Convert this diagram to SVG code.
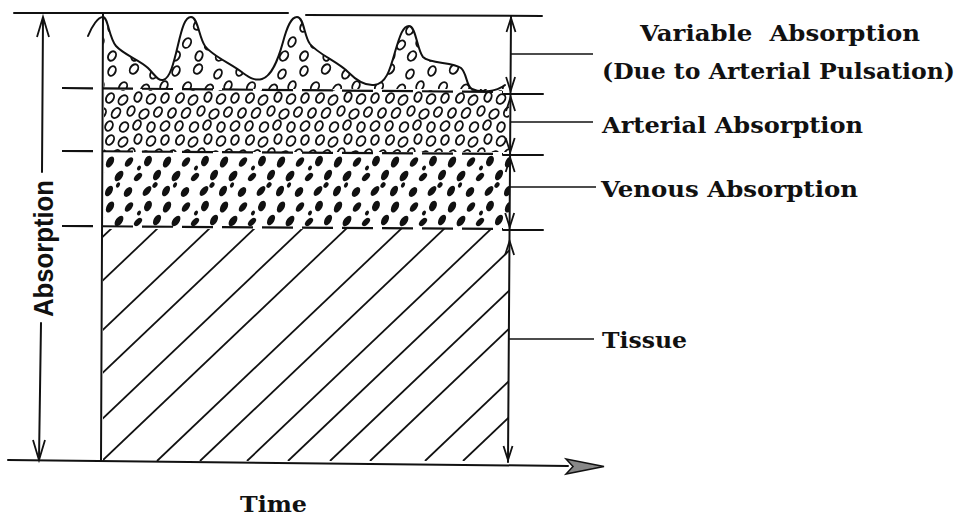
<svg xmlns="http://www.w3.org/2000/svg" xmlns:xlink="http://www.w3.org/1999/xlink" width="964" height="518" viewBox="0 0 964 518">
<style>
.ln{stroke:#111;stroke-width:2;fill:none;stroke-linecap:round}
.thin{stroke:#111;stroke-width:1.6;fill:none}
.ah{stroke:#111;stroke-width:1.8;fill:none;stroke-linejoin:miter}
.dash{stroke:#111;stroke-width:2.2;stroke-dasharray:31 9;fill:none}
.hatch{stroke:#111;stroke-width:1.8;fill:none}
.lbl{font-family:"DejaVu Serif","Liberation Serif",serif;font-weight:bold;font-size:22px;fill:#111}
.sans{font-family:"Liberation Sans","DejaVu Sans",sans-serif;font-weight:bold;font-size:28px;fill:#111}
.ho{fill:none;stroke:#111;stroke-width:1.9}
.fi{fill:#111}
</style>
<defs>
<path id="ah" class="ah" d="M-4.5,14 L0,0 L4.5,14"/>
<path id="ahL" class="ah" d="M-6,20 L0,0 L6,20"/>
<pattern id="pd" patternUnits="userSpaceOnUse" x="104" y="91" width="70" height="42">
<g class="ho">
<ellipse cx="6" cy="7" rx="3.6" ry="5.2" transform="rotate(30 6 7)"/>
<ellipse cx="19" cy="9" rx="3.8" ry="5.4" transform="rotate(40 19 9)"/>
<ellipse cx="34" cy="6" rx="3.4" ry="5" transform="rotate(20 34 6)"/>
<ellipse cx="47" cy="8" rx="3.9" ry="5.3" transform="rotate(35 47 8)"/>
<ellipse cx="61" cy="7" rx="3.5" ry="5" transform="rotate(25 61 7)"/>
<ellipse cx="12" cy="22" rx="3.7" ry="5.5" transform="rotate(35 12 22)"/>
<ellipse cx="27" cy="20" rx="3.4" ry="5" transform="rotate(25 27 20)"/>
<ellipse cx="40" cy="23" rx="3.9" ry="5.4" transform="rotate(45 40 23)"/>
<ellipse cx="54" cy="21" rx="3.6" ry="5.2" transform="rotate(30 54 21)"/>
<ellipse cx="68" cy="22" rx="3.5" ry="5.1" transform="rotate(30 68 22)"/>
<ellipse cx="-2" cy="22" rx="3.5" ry="5.1" transform="rotate(30 -2 22)"/>
<ellipse cx="5" cy="35" rx="3.5" ry="5" transform="rotate(25 5 35)"/>
<ellipse cx="20" cy="36" rx="3.8" ry="5.2" transform="rotate(35 20 36)"/>
<ellipse cx="33" cy="34" rx="3.4" ry="5.1" transform="rotate(30 33 34)"/>
<ellipse cx="47" cy="36" rx="3.6" ry="5" transform="rotate(20 47 36)"/>
<ellipse cx="61" cy="35" rx="3.8" ry="5.3" transform="rotate(40 61 35)"/>
</g>
</pattern>
<pattern id="ps" patternUnits="userSpaceOnUse" x="104" y="18" width="64" height="44">
<g class="ho">
<ellipse cx="8" cy="9" rx="3.5" ry="5" transform="rotate(25 8 9)"/>
<ellipse cx="30" cy="7" rx="3.7" ry="5.2" transform="rotate(35 30 7)"/>
<ellipse cx="50" cy="12" rx="3.4" ry="5" transform="rotate(30 50 12)"/>
<ellipse cx="19" cy="25" rx="3.7" ry="5.2" transform="rotate(30 19 25)"/>
<ellipse cx="41" cy="27" rx="3.5" ry="5" transform="rotate(40 41 27)"/>
<ellipse cx="60" cy="24" rx="3.4" ry="5" transform="rotate(25 60 24)"/>
<ellipse cx="-4" cy="24" rx="3.4" ry="5" transform="rotate(25 -4 24)"/>
<ellipse cx="8" cy="38" rx="3.6" ry="5" transform="rotate(30 8 38)"/>
<ellipse cx="31" cy="38" rx="3.4" ry="5" transform="rotate(20 31 38)"/>
<ellipse cx="52" cy="38" rx="3.7" ry="5.1" transform="rotate(35 52 38)"/>
</g>
</pattern>
<pattern id="pf" patternUnits="userSpaceOnUse" x="104" y="154" width="57" height="45">
<g class="fi">
<ellipse cx="6" cy="8" rx="3.4" ry="6" transform="rotate(30 6 8)"/>
<ellipse cx="25" cy="8" rx="3" ry="5.6" transform="rotate(40 25 8)"/>
<ellipse cx="44" cy="7" rx="3.5" ry="5.6" transform="rotate(25 44 7)"/>
<ellipse cx="15" cy="22" rx="3.4" ry="6" transform="rotate(35 15 22)"/>
<ellipse cx="34" cy="23" rx="2.8" ry="5" transform="rotate(45 34 23)"/>
<ellipse cx="53" cy="21" rx="3.3" ry="5.8" transform="rotate(30 53 21)"/>
<ellipse cx="-4" cy="21" rx="3.3" ry="5.8" transform="rotate(30 -4 21)"/>
<ellipse cx="5" cy="37" rx="3.3" ry="5.8" transform="rotate(30 5 37)"/>
<ellipse cx="24" cy="38" rx="3.5" ry="5.5" transform="rotate(35 24 38)"/>
<ellipse cx="43" cy="37" rx="3.1" ry="5.8" transform="rotate(40 43 37)"/>
<ellipse cx="35" cy="14" rx="1.8" ry="2.6" transform="rotate(30 35 14)"/>
<ellipse cx="14" cy="31" rx="1.8" ry="2.8" transform="rotate(30 14 31)"/>
<ellipse cx="51" cy="31" rx="2.2" ry="3.2" transform="rotate(35 51 31)"/>
</g>
</pattern>
<clipPath id="hc"><rect x="103" y="229" width="406" height="232"/></clipPath>
</defs>
<rect width="964" height="518" fill="#fff"/>

<g id="layers">
<path id="variable-fill" fill="url(#ps)" d="M103,17 C108,17 109,38 116,46 C124,55 140,60 148,68 C155,75 158,81 163,80 C170,79 174,62 178,45 C182,28 185,17 191,17 C198,17 199,38 205,46 C212,56 232,64 243,73 C250,78 255,81 262,79 C272,76 278,60 283,42 C287,27 291,17 297,17 C304,17 304,36 310,44 C318,54 338,62 348,72 C356,80 364,86 374,85 C386,84 390,70 395,52 C400,35 403,26 409,26 C416,26 417,50 423,57 C430,64 452,62 461,68 C467,73 466,86 472,89 C480,93 496,92 505,85 L509,86 L509,89 L104,89 Z"/>
<rect id="arterial-fill" x="104" y="90" width="405" height="62" fill="url(#pd)"/>
<rect id="venous-fill" x="104" y="153" width="405" height="74" fill="url(#pf)"/>
<g id="tissue-hatch" class="hatch" clip-path="url(#hc)">
<line x1="-133" y1="461" x2="112" y2="228"/>
<line x1="-87" y1="461" x2="158" y2="228"/>
<line x1="-35" y1="461" x2="210" y2="228"/>
<line x1="10" y1="461" x2="255" y2="228"/>
<line x1="58" y1="461" x2="303" y2="228"/>
<line x1="102" y1="461" x2="347" y2="228"/>
<line x1="157" y1="461" x2="402" y2="228"/>
<line x1="200" y1="461" x2="445" y2="228"/>
<line x1="247" y1="461" x2="492" y2="228"/>
<line x1="288" y1="461" x2="533" y2="228"/>
<line x1="330" y1="461" x2="575" y2="228"/>
<line x1="370" y1="461" x2="615" y2="228"/>
<line x1="425" y1="461" x2="670" y2="228"/>
<line x1="463" y1="461" x2="708" y2="228"/>
</g>
<path id="pulse-curve" class="ln" stroke-width="2.2" d="M88,36 C92,26 98,17 103,17 C108,17 109,38 116,46 C124,55 140,60 148,68 C155,75 158,81 163,80 C170,79 174,62 178,45 C182,28 185,17 191,17 C198,17 199,38 205,46 C212,56 232,64 243,73 C250,78 255,81 262,79 C272,76 278,60 283,42 C287,27 291,17 297,17 C304,17 304,36 310,44 C318,54 338,62 348,72 C356,80 364,86 374,85 C386,84 390,70 395,52 C400,35 403,26 409,26 C416,26 417,50 423,57 C430,64 452,62 461,68 C467,73 466,86 472,89 C480,93 496,92 505,85"/>
<line class="dash" x1="62" y1="88" x2="503" y2="92"/>
<line class="dash" x1="62" y1="151" x2="503" y2="154"/>
<line class="dash" x1="62" y1="226" x2="503" y2="229"/>
</g>

<g id="connectors">
<line class="ln" x1="14" y1="13" x2="288" y2="13"/>
<line class="ln" x1="306" y1="15" x2="542" y2="16"/>
<line class="ln" x1="103" y1="13" x2="101" y2="461"/>
<line class="ln" x1="8" y1="460" x2="568" y2="466"/>
<path d="M566,459 L604,466.5 L566,474 L573,466.5 Z" fill="#888" stroke="#111" stroke-width="1.5"/>
<line class="ln" x1="43" y1="18" x2="42" y2="172"/>
<line class="ln" x1="41" y1="323" x2="39" y2="459"/>
<use href="#ahL" transform="translate(43,17)"/>
<use href="#ahL" transform="translate(39,460) rotate(180)"/>
<line class="ln" x1="511" y1="16" x2="508" y2="462"/>
<line class="ln" x1="503" y1="94" x2="543" y2="94"/>
<line class="ln" x1="503" y1="155" x2="543" y2="155"/>
<line class="ln" x1="503" y1="230" x2="543" y2="230"/>
<use href="#ah" transform="translate(511,18)"/>
<use href="#ah" transform="translate(510.6,91) rotate(180)"/>
<use href="#ah" transform="translate(510.6,97)"/>
<use href="#ah" transform="translate(510.2,152) rotate(180)"/>
<use href="#ah" transform="translate(510.2,158)"/>
<use href="#ah" transform="translate(509.7,227) rotate(180)"/>
<use href="#ah" transform="translate(509.6,241)"/>
<use href="#ah" transform="translate(508,460) rotate(180)"/>
<line class="thin" x1="511" y1="54" x2="593" y2="54"/>
<line class="thin" x1="511" y1="122" x2="593" y2="122"/>
<line class="thin" x1="510" y1="187" x2="596" y2="187"/>
<line class="thin" x1="509" y1="339" x2="594" y2="339"/>
</g>

<g id="label-variable">
<text class="lbl" x="640" y="41" textLength="280" lengthAdjust="spacingAndGlyphs" xml:space="preserve">Variable  Absorption</text>
<text class="lbl" x="602" y="79" textLength="353" lengthAdjust="spacingAndGlyphs">(Due to Arterial Pulsation)</text>
</g>
<g id="label-arterial"><text class="lbl" x="602" y="133" textLength="261" lengthAdjust="spacingAndGlyphs">Arterial Absorption</text></g>
<g id="label-venous"><text class="lbl" x="601" y="197" textLength="257" lengthAdjust="spacingAndGlyphs">Venous Absorption</text></g>
<g id="label-tissue"><text class="lbl" x="602" y="348" textLength="85" lengthAdjust="spacingAndGlyphs">Tissue</text></g>
<g id="label-time"><text class="lbl" x="240" y="512" textLength="67" lengthAdjust="spacingAndGlyphs">Time</text></g>
<g id="label-absorption"><text class="sans" transform="translate(53,248.5) rotate(-90)" x="0" y="0" text-anchor="middle" textLength="137" lengthAdjust="spacingAndGlyphs">Absorption</text></g>
</svg>
